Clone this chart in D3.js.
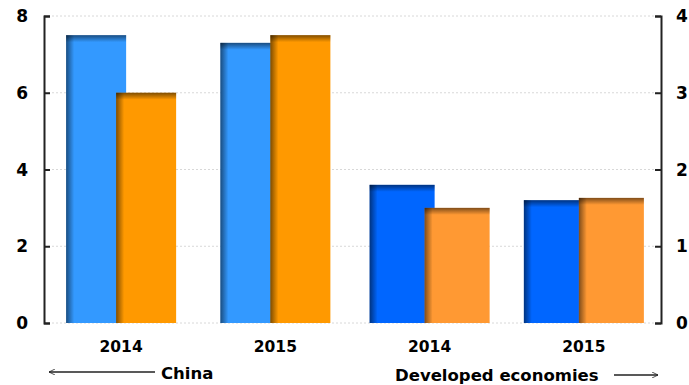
<!DOCTYPE html>
<html><head><meta charset="utf-8">
<script src="https://cdn.jsdelivr.net/npm/d3@7"></script>
<style>body{margin:0;background:#fff;}svg{display:block;}</style>
</head><body>
<script>
const categories = ["2014", "2015", "2014", "2015"];
const groupLabels = ["China", "Developed economies"];
const seriesBlue = [7.5, 7.3, 1.8, 1.6];
const seriesOrange = [6.0, 7.5, 1.5, 1.63];
const axisFor = ["left", "left", "right", "right"];
const leftTicks = [0, 2, 4, 6, 8];
const rightTicks = [0, 1, 2, 3, 4];
const blueColors = ["#3399FF", "#3399FF", "#0066FF", "#0066FF"];
const orangeColors = ["#FF9900", "#FF9900", "#FF9933", "#FF9933"];
const barWidths = [60, 60, 65, 65];

const W = 689, H = 385;
const L = 44, R = 661, T = 16, B = 323;
const svg = d3.select("body").append("svg").attr("width", W).attr("height", H);
const defs = svg.append("defs");
const gl = defs.append("linearGradient").attr("id", "shL").attr("x1", 0).attr("x2", 1).attr("y1", 0).attr("y2", 0);
gl.append("stop").attr("offset", "0").attr("stop-color", "#000").attr("stop-opacity", 0.5);
gl.append("stop").attr("offset", "1").attr("stop-color", "#000").attr("stop-opacity", 0);
const gt = defs.append("linearGradient").attr("id", "shT").attr("x1", 0).attr("x2", 0).attr("y1", 0).attr("y2", 1);
gt.append("stop").attr("offset", "0").attr("stop-color", "#000").attr("stop-opacity", 0.5);
gt.append("stop").attr("offset", "1").attr("stop-color", "#000").attr("stop-opacity", 0);

const x = d3.scaleBand().domain(d3.range(categories.length)).range([L, R]);
const yL = d3.scaleLinear().domain([0, 8]).range([B, T]);
const yR = d3.scaleLinear().domain([0, 4]).range([B, T]);
const yOf = i => axisFor[i] === "left" ? yL : yR;

// gridlines
svg.append("g").selectAll("line").data(leftTicks).join("line")
  .attr("x1", L).attr("x2", R).attr("y1", d => yL(d)).attr("y2", d => yL(d))
  .attr("stroke", "#d8d8d8").attr("stroke-width", 1).attr("stroke-dasharray", "2,2");

function drawBar(i, v, color, dir) {
  const y = yOf(i);
  const bw = barWidths[i];
  const off = bw / 2 - 5;
  const cx = x(i) + x.bandwidth() / 2 + dir * off;
  const x0 = cx - bw / 2, y0 = y(v), h = B - y(v);
  const g = svg.append("g");
  g.append("rect").attr("x", x0).attr("y", y0).attr("width", bw).attr("height", h).attr("fill", color);
  g.append("rect").attr("x", x0).attr("y", y0).attr("width", 8).attr("height", h).attr("fill", "url(#shL)");
  g.append("rect").attr("x", x0).attr("y", y0).attr("width", bw).attr("height", 7).attr("fill", "url(#shT)");
}
categories.forEach((c, i) => {
  drawBar(i, seriesBlue[i], blueColors[i], -1);
  drawBar(i, seriesOrange[i], orangeColors[i], 1);
});

// axes
const fontFam = "'DejaVu Sans', Verdana, sans-serif";
const la = svg.append("g").attr("transform", `translate(${L},0)`)
  .call(d3.axisRight(yL).tickValues(leftTicks).tickSize(6).tickFormat(""));
const ra = svg.append("g").attr("transform", `translate(${R},0)`)
  .call(d3.axisLeft(yR).tickValues(rightTicks).tickSize(6).tickFormat(""));
[la, ra].forEach(a => {
  a.select(".domain").attr("stroke", "#222").attr("stroke-width", 2);
  a.selectAll(".tick line").attr("stroke", "#222").attr("stroke-width", 2);
});
svg.append("g").selectAll("text").data(leftTicks).join("text")
  .attr("x", 28).attr("y", d => yL(d)).attr("dy", "0.36em").attr("text-anchor", "end")
  .attr("font-family", fontFam).attr("font-weight", "bold").attr("font-size", 17).text(d => d);
svg.append("g").selectAll("text").data(rightTicks).join("text")
  .attr("x", 676).attr("y", d => yR(d)).attr("dy", "0.36em").attr("text-anchor", "start")
  .attr("font-family", fontFam).attr("font-weight", "bold").attr("font-size", 17).text(d => d);

// category labels
svg.append("g").selectAll("text").data(categories).join("text")
  .attr("x", (d, i) => x(i) + x.bandwidth() / 2).attr("y", 346).attr("dy", "0.36em")
  .attr("text-anchor", "middle").attr("font-family", fontFam).attr("font-weight", "bold")
  .attr("font-size", 15.5).text(d => d);

// group labels + arrows
defs.append("marker").attr("id", "ah").attr("viewBox", "0 0 10 10").attr("refX", 10).attr("refY", 5)
  .attr("markerWidth", 10).attr("markerHeight", 6).attr("markerUnits", "userSpaceOnUse").attr("orient", "auto")
  .append("path").attr("d", "M0,0 L10,5 L0,10").attr("fill", "none").attr("stroke", "#222").attr("stroke-width", 1.3);
svg.append("text").attr("x", 161).attr("y", 373).attr("dy", "0.36em").attr("font-family", fontFam)
  .attr("font-weight", "bold").attr("font-size", 16.5).text(groupLabels[0]);
svg.append("line").attr("x1", 155).attr("x2", 49).attr("y1", 372).attr("y2", 372)
  .attr("stroke", "#222").attr("stroke-width", 1.3).attr("marker-end", "url(#ah)");
svg.append("text").attr("x", 395).attr("y", 375).attr("dy", "0.36em").attr("font-family", fontFam)
  .attr("font-weight", "bold").attr("font-size", 16.5).text(groupLabels[1]);
svg.append("line").attr("x1", 614).attr("x2", 658).attr("y1", 375).attr("y2", 375)
  .attr("stroke", "#222").attr("stroke-width", 1.3).attr("marker-end", "url(#ah)");
</script>
</body></html>
